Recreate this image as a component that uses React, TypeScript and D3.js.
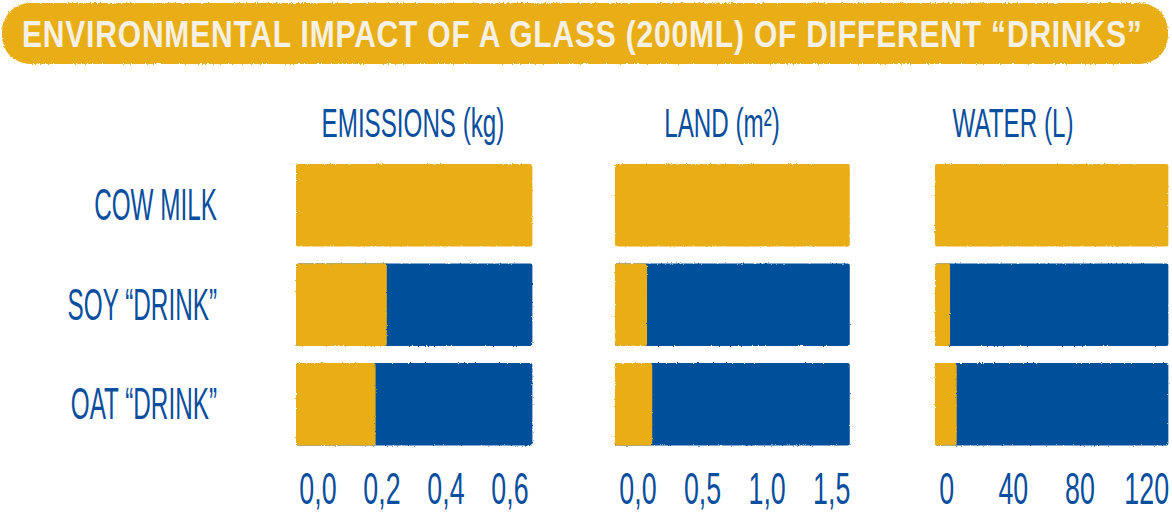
import React, { useLayoutEffect, useRef, useState } from "react";
import * as d3 from "d3";

const title = "ENVIRONMENTAL IMPACT OF A GLASS (200ML) OF DIFFERENT “DRINKS”";
const categories = ["COW MILK", "SOY “DRINK”", "OAT “DRINK”"];
const panelTitles = ["EMISSIONS (kg)", "LAND (m²)", "WATER (L)"];
const emissions = [0.67, 0.215, 0.18];
const land = [1.64, 0.07, 0.11];
const water = [133, 2, 6];
const emissionsTicks = [0, 0.2, 0.4, 0.6];
const landTicks = [0, 0.5, 1.0, 1.5];
const waterTicks = [0, 40, 80, 120];

const YELLOW = "#E9AE16";
const BLUE = "#044F9B";
const TEXT_BLUE = "#0A4F9E";
const CREAM = "#F6F1E4";
const FONT = "'Liberation Sans Narrow', 'Liberation Sans', Arial, sans-serif";

const W = 1172;
const H = 517;

const commaFmt = (d: number) => d3.format(".1f")(d).replace(".", ",");
const intFmt = (d: number) => d3.format("d")(d);

type Panel = {
  title: string;
  values: number[];
  ticks: number[];
  fmt: (d: number) => string;
  range: [number, number];
  barLeft: number;
  titleX: number;
};

const panels: Panel[] = [
  { title: panelTitles[0], values: emissions, ticks: emissionsTicks, fmt: commaFmt, range: [318, 510], barLeft: 296, titleX: 413 },
  { title: panelTitles[1], values: land, ticks: landTicks, fmt: commaFmt, range: [638, 831.7], barLeft: 615, titleX: 722 },
  { title: panelTitles[2], values: water, ticks: waterTicks, fmt: intFmt, range: [946.7, 1146.7], barLeft: 935, titleX: 1013 },
];

const y = d3.scaleBand<string>().domain(categories).range([164, 445.5]).paddingInner(0.17).paddingOuter(0);

function SqText({ x, yy, size, anchor, squeeze, children, fill = TEXT_BLUE }: any) {
  return (
    <text
      transform={`translate(${x},${yy}) scale(${squeeze},1)`}
      x={0}
      y={0}
      fontFamily={FONT}
      fontSize={size}
      textAnchor={anchor}
      fill={fill}
    >
      {children}
    </text>
  );
}

export default function App() {
  const titleRef = useRef<SVGTextElement>(null);
  const [titleScale, setTitleScale] = useState(0.8);
  const TITLE_W = 1121;

  useLayoutEffect(() => {
    if (titleRef.current) {
      const len = titleRef.current.getComputedTextLength();
      if (len > 0) setTitleScale(TITLE_W / len);
    }
  }, []);

  return (
    <div style={{ position: "absolute", left: 0, top: 0, width: W, height: H, background: "#fff" }}>
      <svg width={W} height={H} viewBox={`0 0 ${W} ${H}`} style={{ display: "block" }}>
        <defs>
          <filter id="rough" x="-2%" y="-5%" width="104%" height="110%">
            <feTurbulence type="fractalNoise" baseFrequency="0.9" numOctaves={2} seed={3} result="noise" />
            <feDisplacementMap in="SourceGraphic" in2="noise" scale={2.2} xChannelSelector="R" yChannelSelector="G" />
          </filter>
          <filter id="roughBanner" x="-2%" y="-10%" width="104%" height="120%">
            <feTurbulence type="fractalNoise" baseFrequency="0.6" numOctaves={2} seed={7} result="noise" />
            <feDisplacementMap in="SourceGraphic" in2="noise" scale={3} xChannelSelector="R" yChannelSelector="G" />
          </filter>
        </defs>

        {/* Title banner */}
        <g filter="url(#roughBanner)">
          <rect x={2} y={3} width={1166} height={61} rx={28} ry={28} fill={YELLOW} />
        </g>
        <text
          ref={titleRef}
          transform={`translate(22,47) scale(${titleScale},1)`}
          x={0}
          y={0}
          fontFamily={FONT}
          fontWeight="bold"
          fontSize={37}
          letterSpacing={1}
          fill={CREAM}
        >
          {title}
        </text>

        {/* Category labels */}
        {categories.map((c) => (
          <SqText key={c} x={217} yy={(y(c) as number) + y.bandwidth() / 2 + 15} size={45} squeeze={0.54} anchor="end">
            {c}
          </SqText>
        ))}

        {panels.map((p, pi) => {
          const x = d3.scaleLinear().domain([p.ticks[0], p.ticks[p.ticks.length - 1]]).range(p.range);
          const ref = p.values[0];
          return (
            <g key={pi}>
              <SqText x={p.titleX} yy={136.7} size={41} squeeze={0.59} anchor="middle">
                {p.title}
              </SqText>
              <g filter="url(#rough)">
                {categories.map((c, i) => {
                  const yy = y(c) as number;
                  const bw = y.bandwidth();
                  return (
                    <g key={c}>
                      {i > 0 && (
                        <rect x={p.barLeft} y={yy} width={x(ref) - p.barLeft} height={bw} rx={2} fill={BLUE} />
                      )}
                      <rect x={p.barLeft} y={yy} width={x(p.values[i]) - p.barLeft} height={bw} rx={2} fill={YELLOW} />
                    </g>
                  );
                })}
              </g>
              {p.ticks.map((t) => (
                <SqText key={t} x={x(t)} yy={504} size={44} squeeze={0.61} anchor="middle">
                  {p.fmt(t)}
                </SqText>
              ))}
            </g>
          );
        })}
      </svg>
    </div>
  );
}
